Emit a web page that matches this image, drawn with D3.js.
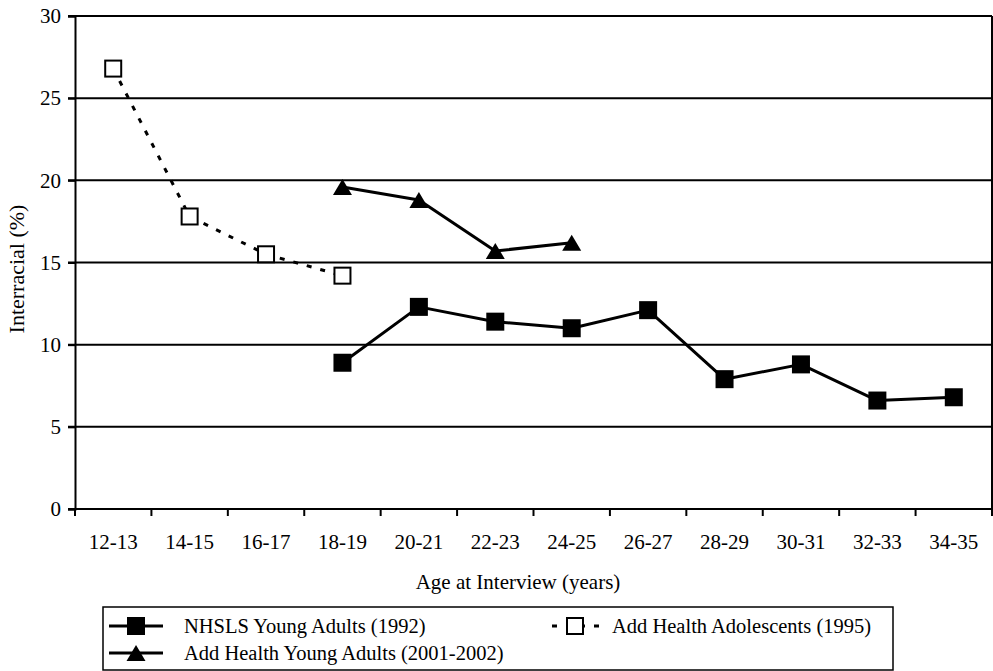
<!DOCTYPE html>
<html>
<head>
<meta charset="utf-8">
<script src="https://cdn.jsdelivr.net/npm/d3@7"></script>
<style>
  html, body { margin: 0; padding: 0; background: #fff; }
  svg { display: block; }
  text { font-family: "Liberation Serif", "Times New Roman", serif; fill: #000; }
</style>
</head>
<body>
<svg id="chart" width="993" height="671"></svg>
<script>
const categories = ["12-13","14-15","16-17","18-19","20-21","22-23","24-25","26-27","28-29","30-31","32-33","34-35"];
const nhslsYoungAdults = [null, null, null, 8.9, 12.3, 11.4, 11.0, 12.1, 7.9, 8.8, 6.6, 6.8];
const addHealthAdolescents = [26.8, 17.8, 15.5, 14.2, null, null, null, null, null, null, null, null];
const addHealthYoungAdults = [null, null, null, 19.6, 18.8, 15.7, 16.2, null, null, null, null, null];
const yTicks = [0, 5, 10, 15, 20, 25, 30];
const seriesNames = ["NHSLS Young Adults (1992)", "Add Health Adolescents (1995)", "Add Health Young Adults (2001-2002)"];

(function () {
const svg = d3.select("#chart");
const pLeft = 75, pRight = 992, pTop = 16, pBottom = 509;

const x = d3.scaleBand().domain(categories).range([pLeft, pRight]).padding(0);
const y = d3.scaleLinear().domain([0, 30]).range([pBottom, pTop]);

// gridlines (with left tick extension)
svg.append("g").selectAll("line").data(yTicks.filter(d => d > 0)).join("line")
  .attr("x1", pLeft - 7).attr("x2", pRight)
  .attr("y1", d => y(d)).attr("y2", d => y(d))
  .attr("stroke", "#000").attr("stroke-width", 2);

// y axis
const yAxis = svg.append("g").attr("transform", `translate(${pLeft},0)`)
  .call(d3.axisLeft(y).tickValues(yTicks).tickSize(7).tickPadding(7));
yAxis.select(".domain").attr("stroke-width", 2);
yAxis.selectAll(".tick line").attr("stroke-width", 2);
yAxis.selectAll(".tick text").attr("font-size", 21).attr("font-family", "Liberation Serif");

// x axis: ticks at band boundaries
const xAxisG = svg.append("g");
xAxisG.append("line").attr("x1", pLeft - 7).attr("x2", pRight).attr("y1", pBottom).attr("y2", pBottom)
  .attr("stroke", "#000").attr("stroke-width", 2);
const boundaries = categories.map(c => x(c)).concat([x(categories[categories.length - 1]) + x.bandwidth()]);
xAxisG.selectAll("line.tk").data(boundaries).join("line").attr("class", "tk")
  .attr("x1", d => d).attr("x2", d => d).attr("y1", pBottom).attr("y2", pBottom + 7)
  .attr("stroke", "#000").attr("stroke-width", 2);
xAxisG.selectAll("text").data(categories).join("text")
  .attr("x", d => x(d) + x.bandwidth() / 2).attr("y", 549)
  .attr("text-anchor", "middle").attr("font-size", 21).text(d => d);

// right border
svg.append("line").attr("x1", pRight).attr("x2", pRight).attr("y1", pTop).attr("y2", pBottom)
  .attr("stroke", "#000").attr("stroke-width", 2);

// axis titles
svg.append("text").attr("x", 518).attr("y", 589).attr("text-anchor", "middle")
  .attr("font-size", 21).text("Age at Interview (years)");
svg.append("text").attr("transform", "translate(24,269) rotate(-90)")
  .attr("text-anchor", "middle").attr("font-size", 22).text("Interracial (%)");

const cx = i => x(categories[i]) + x.bandwidth() / 2;

function drawLine(vals, dash) {
  const pts = vals.map((v, i) => [i, v]).filter(d => d[1] != null);
  const line = d3.line().x(d => cx(d[0])).y(d => y(d[1]));
  svg.append("path").attr("d", line(pts)).attr("fill", "none").attr("stroke", "#000")
    .attr("stroke-width", 3).attr("stroke-dasharray", dash || null)
    .attr("stroke-linejoin", "round");
  return pts;
}

function square(g, px, py, filled) {
  const s = filled ? 18 : 16;
  g.append("rect").attr("x", px - s / 2).attr("y", py - s / 2).attr("width", s).attr("height", s)
    .attr("fill", filled ? "#000" : "#fff").attr("stroke", "#000").attr("stroke-width", filled ? 0 : 2);
}
function triangle(g, px, py) {
  const w = 19, h = 16;
  g.append("path").attr("d", `M${px},${py - h / 2}L${px + w / 2},${py + h / 2}L${px - w / 2},${py + h / 2}Z`)
    .attr("fill", "#000");
}

// series
const p1 = drawLine(addHealthAdolescents, "5,9");
p1.forEach(d => square(svg, cx(d[0]), y(d[1]), false));
const p2 = drawLine(addHealthYoungAdults);
p2.forEach(d => triangle(svg, cx(d[0]), y(d[1])));
const p3 = drawLine(nhslsYoungAdults);
p3.forEach(d => square(svg, cx(d[0]), y(d[1]), true));

// legend
const lg = svg.append("g");
lg.append("rect").attr("x", 103).attr("y", 607).attr("width", 790).attr("height", 63)
  .attr("fill", "#fff").attr("stroke", "#000").attr("stroke-width", 1.5);
lg.append("line").attr("x1", 109).attr("x2", 163).attr("y1", 626).attr("y2", 626).attr("stroke", "#000").attr("stroke-width", 3);
square(lg, 136, 626, true);
lg.append("text").attr("x", 184).attr("y", 633).attr("font-size", 20.5).text(seriesNames[0]);
lg.append("line").attr("x1", 552).attr("x2", 600).attr("y1", 626).attr("y2", 626).attr("stroke", "#000")
  .attr("stroke-width", 3).attr("stroke-dasharray", "5,9");
square(lg, 575, 626, false);
lg.append("text").attr("x", 612).attr("y", 633).attr("font-size", 20.5).text(seriesNames[1]);
lg.append("line").attr("x1", 109).attr("x2", 163).attr("y1", 653).attr("y2", 653).attr("stroke", "#000").attr("stroke-width", 3);
triangle(lg, 136, 653);
lg.append("text").attr("x", 184).attr("y", 660).attr("font-size", 20.5).text(seriesNames[2]);
})();
</script>
</body>
</html>
